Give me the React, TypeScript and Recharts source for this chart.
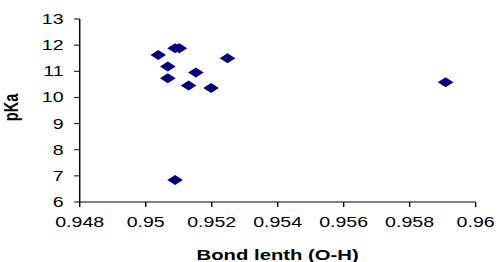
import { CartesianGrid, Label, Scatter, ScatterChart, XAxis, YAxis } from "recharts";

// Values
const bondLength = [
  0.95038, 0.95067, 0.95067, 0.95089, 0.95102, 0.9513, 0.95152, 0.95198,
  0.95248, 0.95089, 0.95909,
];
const pKa = [11.62, 11.18, 10.73, 11.88, 11.88, 10.46, 10.95, 10.36, 11.5, 6.84, 10.58];

const xTicks = [0.948, 0.95, 0.952, 0.954, 0.956, 0.958, 0.96];
const yTicks = [6, 7, 8, 9, 10, 11, 12, 13];

// The reference is stretched sideways, so the chart is drawn narrower and scaled in x
const STRETCH = 498 / 356;

const points = bondLength.map((x, i) => ({ x, y: pKa[i] }));

function Diamond(props: any) {
  const { cx, cy } = props;
  if (cx == null || cy == null) return null;
  const w = 5.6;
  const h = 5;
  return (
    <polygon
      points={`${cx},${cy - h} ${cx + w},${cy} ${cx},${cy + h} ${cx - w},${cy}`}
      fill="#000080"
    />
  );
}

const font = "'Liberation Sans', Arial, sans-serif";
const tickStyle = { fill: "#000", fontSize: 14, fontFamily: font };

export default function App() {
  return (
    <div style={{ position: "absolute", left: 0, top: 0, width: 498, height: 262, overflow: "hidden", background: "#fff" }}>
      <div style={{ width: 356, height: 262, transform: `scaleX(${STRETCH})`, transformOrigin: "0 0" }}>
        <ScatterChart width={356} height={262} margin={{ top: 19, right: 16, bottom: 2, left: 0 }}>
          <CartesianGrid stroke="none" />
          <XAxis
            type="number"
            dataKey="x"
            domain={[0.948, 0.96]}
            ticks={xTicks}
            tick={tickStyle}
            tickSize={5}
            tickMargin={10}
            stroke="#000"
            height={58}
            interval={0}
          >
            <Label
              value="Bond lenth (O-H)"
              position="insideBottom"
              offset={0}
              style={{ fontSize: 14.5, fontWeight: "bold", fill: "#000", fontFamily: font }}
            />
          </XAxis>
          <YAxis
            type="number"
            dataKey="y"
            domain={[6, 13]}
            ticks={yTicks}
            tick={tickStyle}
            tickSize={4}
            tickMargin={7.5}
            stroke="#000"
            width={57}
            interval={0}
          >
            <Label
              value="pKa"
              angle={-90}
              position="insideLeft"
              offset={8}
              dy={-3}
              style={{ textAnchor: "middle", fontSize: 14.5, fontWeight: "bold", fill: "#000", fontFamily: font }}
            />
          </YAxis>
          <Scatter data={points} shape={<Diamond />} isAnimationActive={false} />
        </ScatterChart>
      </div>
    </div>
  );
}
